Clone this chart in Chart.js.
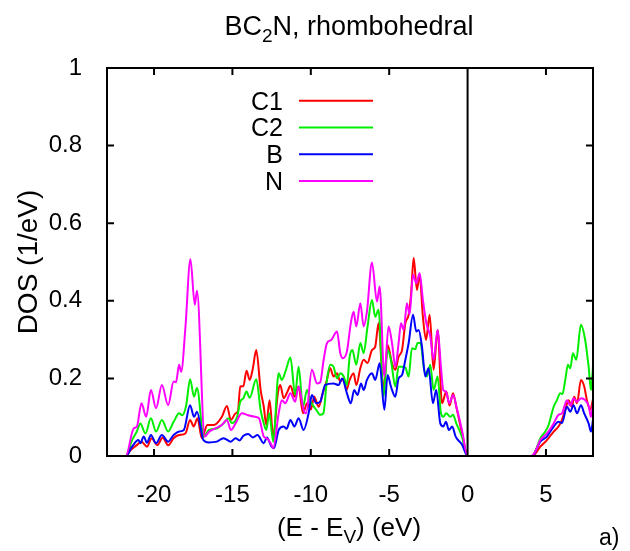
<!DOCTYPE html>
<html>
<head>
<meta charset="utf-8">
<script src="https://cdn.jsdelivr.net/npm/chart.js@4"></script>
<style>
  html, body { margin: 0; background: #fff; }
  #wrap { width: 630px; height: 551px; position: relative; }
</style>
</head>
<body>
<div id="wrap"><canvas id="dos"></canvas></div>
<script>
// energies (eV, relative to E_V) and DOS (1/eV), per site
const c1E   = [-23, -21.8, -21.5, -21.1, -20.8, -20.45, -20.15, -19.8, -19.45, -19.1, -18.75, -18.4, -18.0, -17.7, -17.47, -17.23, -16.95, -16.6, -16.2, -16.0, -15.67, -15.35, -15.1, -14.8, -14.65, -14.5, -14.3, -14.1, -13.9, -13.7, -13.48, -13.2, -13.0, -12.84, -12.63, -12.4, -12.1, -11.95, -11.73, -11.5, -11.3, -11.03, -10.78, -10.5, -10.24, -10.0, -9.78, -9.5, -9.25, -9.0, -8.76, -8.55, -8.33, -8.12, -7.9, -7.73, -7.52, -7.27, -7.1, -6.84, -6.63, -6.38, -6.1, -5.89, -5.68, -5.36, -5.1, -4.82, -4.61, -4.4, -4.18, -3.97, -3.76, -3.6, -3.44, -3.23, -3.06, -2.85, -2.65, -2.42, -2.17, -1.91, -1.63, -1.36, -1.15, -0.93, -0.72, -0.36, 0, 4.1, 4.3, 4.64, 5.06, 5.49, 5.8, 6.02, 6.23, 6.44, 6.66, 6.8, 6.98, 7.23, 7.44, 7.61, 7.82, 8.0];
const c1Dos = [0, 0, 0.015, 0.028, 0.037, 0.024, 0.046, 0.028, 0.047, 0.028, 0.046, 0.054, 0.058, 0.093, 0.076, 0.097, 0.046, 0.08, 0.08, 0.084, 0.101, 0.129, 0.093, 0.110, 0.115, 0.179, 0.18, 0.220, 0.196, 0.225, 0.273, 0.170, 0.127, 0.080, 0.144, 0.050, 0.162, 0.183, 0.149, 0.165, 0.181, 0.153, 0.179, 0.110, 0.136, 0.12, 0.153, 0.127, 0.16, 0.192, 0.226, 0.205, 0.213, 0.192, 0.200, 0.170, 0.196, 0.213, 0.183, 0.226, 0.248, 0.24, 0.273, 0.282, 0.342, 0.170, 0.286, 0.239, 0.222, 0.256, 0.273, 0.342, 0.364, 0.42, 0.510, 0.428, 0.467, 0.359, 0.299, 0.364, 0.222, 0.325, 0.136, 0.166, 0.13, 0.162, 0.127, 0.06, 0, 0, 0.005, 0.024, 0.041, 0.063, 0.076, 0.093, 0.119, 0.144, 0.127, 0.153, 0.136, 0.196, 0.179, 0.144, 0.119, 0.146];

const c2E   = [-23, -21.8, -21.4, -21.1, -20.87, -20.55, -20.2, -19.87, -19.5, -19.1, -18.75, -18.4, -18.2, -17.95, -17.7, -17.45, -17.26, -16.83, -16.5, -16.0, -15.57, -15.25, -15.05, -14.7, -14.5, -14.3, -14.1, -13.9, -13.48, -13.2, -13.0, -12.84, -12.65, -12.4, -12.05, -11.85, -11.6, -11.3, -11.0, -10.78, -10.5, -10.24, -10.0, -9.65, -9.4, -9.2, -8.97, -8.76, -8.55, -8.33, -8.12, -7.9, -7.7, -7.52, -7.35, -7.1, -6.84, -6.63, -6.38, -6.1, -5.89, -5.68, -5.36, -5.1, -4.89, -4.61, -4.4, -4.18, -3.97, -3.76, -3.55, -3.34, -3.19, -3.0, -2.8, -2.6, -2.38, -2.17, -1.91, -1.7, -1.55, -1.36, -1.1, -0.93, -0.72, -0.36, 0, 4.1, 4.4, 4.64, 4.96, 5.17, 5.49, 5.7, 5.91, 6.05, 6.23, 6.4, 6.55, 6.72, 6.93, 7.23, 7.5, 7.72, 7.87, 8.0];
const c2Dos = [0, 0, 0.041, 0.063, 0.084, 0.058, 0.097, 0.063, 0.093, 0.063, 0.088, 0.110, 0.105, 0.13, 0.198, 0.153, 0.175, 0.050, 0.067, 0.071, 0.084, 0.097, 0.085, 0.101, 0.140, 0.149, 0.166, 0.15, 0.198, 0.118, 0.084, 0.067, 0.110, 0.037, 0.213, 0.196, 0.22, 0.254, 0.157, 0.230, 0.127, 0.170, 0.14, 0.119, 0.106, 0.11, 0.196, 0.235, 0.23, 0.200, 0.213, 0.205, 0.183, 0.256, 0.273, 0.235, 0.291, 0.265, 0.334, 0.402, 0.359, 0.377, 0.153, 0.273, 0.248, 0.179, 0.230, 0.230, 0.228, 0.205, 0.278, 0.275, 0.291, 0.291, 0.230, 0.205, 0.235, 0.170, 0.205, 0.110, 0.101, 0.110, 0.101, 0.106, 0.084, 0.05, 0, 0, 0.02, 0.046, 0.063, 0.080, 0.127, 0.144, 0.162, 0.16, 0.196, 0.235, 0.226, 0.265, 0.248, 0.338, 0.299, 0.230, 0.170, 0.230];

const bE    = [-23, -21.8, -21.4, -21.0, -20.87, -20.66, -20.45, -20.2, -19.87, -19.5, -19.1, -18.75, -18.4, -18.1, -17.7, -17.45, -17.26, -16.85, -16.5, -16.0, -15.57, -15.1, -14.8, -14.55, -14.3, -14.0, -13.7, -13.4, -13.0, -12.8, -12.5, -12.35, -12.05, -11.73, -11.55, -11.3, -11.05, -10.78, -10.46, -10.14, -9.93, -9.65, -9.4, -9.08, -8.55, -8.23, -8.0, -7.7, -7.45, -7.23, -7.02, -6.8, -6.63, -6.42, -6.1, -5.89, -5.61, -5.31, -5.1, -4.89, -4.61, -4.4, -4.18, -3.97, -3.76, -3.48, -3.27, -3.12, -2.91, -2.7, -2.49, -2.21, -2.0, -1.74, -1.55, -1.38, -1.19, -0.98, -0.76, -0.36, 0, 4.15, 4.4, 4.64, 5.06, 5.49, 5.8, 6.02, 6.34, 6.55, 6.76, 6.98, 7.23, 7.44, 7.72, 7.87, 8.0];
const bDos  = [0, 0, 0.024, 0.041, 0.033, 0.050, 0.034, 0.054, 0.033, 0.054, 0.037, 0.054, 0.063, 0.067, 0.131, 0.101, 0.114, 0.041, 0.035, 0.037, 0.046, 0.037, 0.046, 0.040, 0.052, 0.057, 0.048, 0.054, 0.033, 0.048, 0.024, 0.020, 0.067, 0.076, 0.070, 0.093, 0.076, 0.097, 0.067, 0.110, 0.157, 0.136, 0.14, 0.183, 0.187, 0.183, 0.200, 0.162, 0.136, 0.170, 0.157, 0.187, 0.170, 0.196, 0.213, 0.196, 0.239, 0.119, 0.209, 0.179, 0.153, 0.200, 0.209, 0.248, 0.291, 0.364, 0.321, 0.325, 0.282, 0.205, 0.226, 0.136, 0.170, 0.084, 0.076, 0.088, 0.067, 0.076, 0.050, 0.03, 0, 0, 0.018, 0.037, 0.050, 0.076, 0.088, 0.085, 0.127, 0.114, 0.131, 0.11, 0.131, 0.11, 0.084, 0.063, 0.093];

const nE    = [-23, -21.8, -21.3, -21.1, -20.8, -20.5, -20.2, -19.87, -19.5, -19.1, -18.75, -18.6, -18.4, -18.27, -18.0, -17.68, -17.4, -17.26, -16.77, -16.5, -16.1, -15.67, -15.35, -15.1, -14.8, -14.4, -14.0, -13.55, -13.3, -13.0, -12.8, -12.56, -12.4, -12.05, -11.85, -11.63, -11.3, -11.0, -10.78, -10.46, -10.3, -9.93, -9.6, -9.4, -9.18, -8.97, -8.7, -8.33, -8.12, -7.95, -7.7, -7.45, -7.27, -7.1, -6.84, -6.63, -6.42, -6.1, -5.78, -5.61, -5.31, -5.04, -4.82, -4.61, -4.4, -4.25, -4.07, -3.87, -3.7, -3.48, -3.27, -3.06, -2.85, -2.63, -2.38, -2.17, -1.91, -1.7, -1.55, -1.38, -1.17, -0.92, -0.69, -0.36, 0, 4.05, 4.3, 4.64, 5.06, 5.49, 5.8, 6.02, 6.34, 6.55, 6.76, 6.98, 7.25, 7.5, 7.72, 7.87, 8.0];
const nDos  = [0, 0, 0.071, 0.075, 0.136, 0.101, 0.170, 0.123, 0.183, 0.131, 0.192, 0.19, 0.235, 0.217, 0.33, 0.507, 0.390, 0.426, 0.05, 0.062, 0.071, 0.080, 0.093, 0.067, 0.084, 0.110, 0.105, 0.101, 0.097, 0.050, 0.045, 0.033, 0.020, 0.110, 0.144, 0.136, 0.162, 0.140, 0.179, 0.119, 0.110, 0.222, 0.187, 0.19, 0.248, 0.291, 0.299, 0.321, 0.265, 0.252, 0.269, 0.342, 0.372, 0.334, 0.394, 0.334, 0.372, 0.499, 0.398, 0.437, 0.205, 0.334, 0.291, 0.230, 0.291, 0.342, 0.325, 0.394, 0.364, 0.467, 0.445, 0.471, 0.402, 0.342, 0.308, 0.248, 0.325, 0.230, 0.17, 0.166, 0.136, 0.157, 0.123, 0.067, 0, 0, 0.01, 0.041, 0.058, 0.084, 0.106, 0.110, 0.144, 0.13, 0.149, 0.14, 0.149, 0.144, 0.13, 0.101, 0.136];

const seriesNames = ["C1", "C2", "B", "N"];
const xTicks = [-20, -15, -10, -5, 0, 5];
const yTicks = [0, 0.2, 0.4, 0.6, 0.8, 1];

function pts(e, d) {
  return e.map((v, i) => ({ x: v, y: d[i] }));
}

const FONT = "'Liberation Sans', Arial, sans-serif";

// gnuplot look: frame, inward ticks, zero line, key and labels
const gnuplotDeco = {
  id: "gnuplotDeco",
  afterDraw(chart) {
    const { ctx, chartArea: a, scales: { x, y } } = chart;
    ctx.save();
    ctx.strokeStyle = "#000";
    ctx.lineWidth = 2;
    ctx.beginPath();
    xTicks.forEach(v => {
      const p = x.getPixelForValue(v);
      ctx.moveTo(p, a.bottom); ctx.lineTo(p, a.bottom - 7);
      ctx.moveTo(p, a.top); ctx.lineTo(p, a.top + 7);
    });
    yTicks.forEach(v => {
      const p = y.getPixelForValue(v);
      ctx.moveTo(a.left, p); ctx.lineTo(a.left + 7, p);
      ctx.moveTo(a.right, p); ctx.lineTo(a.right - 7, p);
    });
    const x0 = x.getPixelForValue(0);
    ctx.moveTo(x0, a.top); ctx.lineTo(x0, a.bottom);
    ctx.stroke();
    ctx.strokeRect(a.left, a.top, a.width, a.height);

    // key
    const colors = chart.data.datasets.map(d => d.borderColor);
    ctx.fillStyle = "#000";
    ctx.font = "25px " + FONT;
    ctx.textAlign = "right";
    ctx.textBaseline = "alphabetic";
    seriesNames.forEach((name, i) => {
      const ly = 100.7 + i * 26.8;
      ctx.fillText(name, 283, ly + 8.8);
      ctx.strokeStyle = colors[i];
      ctx.beginPath(); ctx.moveTo(299, ly); ctx.lineTo(373, ly); ctx.stroke();
    });

    // text with a subscript, centred at cx
    function subText(parts, cx, base, size) {
      const small = Math.round(size * 0.72);
      let w = 0;
      parts.forEach(p => {
        ctx.font = (p.sub ? small : size) + "px " + FONT;
        w += ctx.measureText(p.t).width;
      });
      let cur = cx - w / 2;
      ctx.textAlign = "left";
      parts.forEach(p => {
        ctx.font = (p.sub ? small : size) + "px " + FONT;
        ctx.fillText(p.t, cur, base + (p.sub ? size * 0.25 : 0));
        cur += ctx.measureText(p.t).width;
      });
    }
    ctx.fillStyle = "#000";
    subText([{ t: "BC" }, { t: "2", sub: true }, { t: "N, rhombohedral" }], 349, 35, 27);
    subText([{ t: "(E - E" }, { t: "V", sub: true }, { t: ") (eV)" }], 349, 536, 26);

    ctx.save();
    ctx.translate(37, 262);
    ctx.rotate(-Math.PI / 2);
    ctx.textAlign = "center";
    ctx.font = "28px " + FONT;
    ctx.fillText("DOS (1/eV)", 0, 0);
    ctx.restore();

    ctx.font = "23px " + FONT;
    ctx.textAlign = "left";
    ctx.fillText("a)", 599, 545);
    ctx.restore();
  }
};

const mk = (label, e, d, color, order) => ({
  label, data: pts(e, d), borderColor: color, borderWidth: 2,
  pointRadius: 0, cubicInterpolationMode: "monotone", fill: false, order
});

new Chart(document.getElementById("dos"), {
  type: "line",
  data: {
    datasets: [
      mk(seriesNames[0], c1E, c1Dos, "#ff0000", 3),
      mk(seriesNames[1], c2E, c2Dos, "#00ee00", 2),
      mk(seriesNames[2], bE, bDos, "#0000ff", 1),
      mk(seriesNames[3], nE, nDos, "#ff00ff", 0)
    ]
  },
  options: {
    responsive: true,
    maintainAspectRatio: false,
    animation: false,
    layout: { padding: { left: 0, right: 37, top: 68, bottom: 0 } },
    plugins: { legend: { display: false }, tooltip: { enabled: false } },
    scales: {
      x: {
        type: "linear", min: -23, max: 8,
        grid: { display: false }, border: { display: false },
        afterBuildTicks: s => { s.ticks = xTicks.map(v => ({ value: v })); },
        afterFit: s => { s.height = 95; },
        ticks: { color: "#000", padding: 17, maxRotation: 0, font: { family: FONT, size: 24 } }
      },
      y: {
        min: 0, max: 1,
        grid: { display: false }, border: { display: false },
        afterBuildTicks: s => { s.ticks = yTicks.map(v => ({ value: v })); },
        afterFit: s => { s.width = 107; },
        ticks: { color: "#000", padding: 17, font: { family: FONT, size: 24 }, callback: v => String(v) }
      }
    }
  },
  plugins: [gnuplotDeco]
});
</script>
</body>
</html>
